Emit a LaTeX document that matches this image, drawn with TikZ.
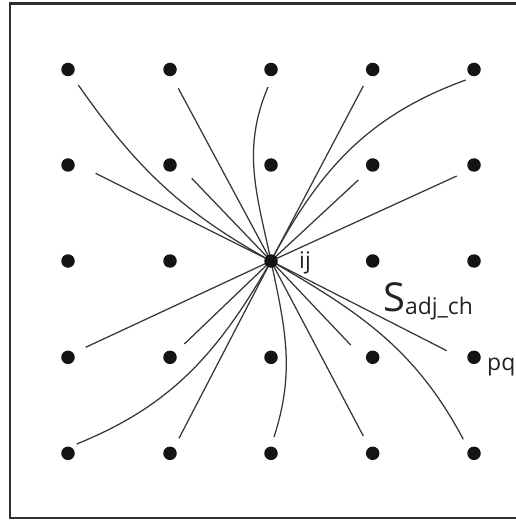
\documentclass[tikz,border=0pt]{standalone}
\usepackage{fontspec}
\setmainfont{Open Sans}
\pgfdeclarelayer{spokes}
\pgfsetlayers{spokes,main}
\definecolor{dotcol}{HTML}{141414}
\definecolor{linecol}{HTML}{363636}
\definecolor{labelcol}{HTML}{222222}
\definecolor{framecol}{HTML}{2E2E2E}
\begin{document}
\begin{tikzpicture}[x=1bp,y=1bp,
  dot/.style={circle,fill=dotcol,inner sep=0pt,minimum size=13.5bp},
  spoke/.style={draw=linecol,line width=1.25bp},
  lbl/.style={text=labelcol,inner sep=0pt,font=\fontsize{23}{27}\selectfont},
  frame/.style={draw=framecol,line width=2.6bp}]
\useasboundingbox (0,0) rectangle (516,-520);
\clip (0,0) rectangle (516,-520);
% outer frame: open on the right, where it runs off the page
\draw[frame] (520,-3.5) -- (10,-3.5) -- (10,-518) -- (520,-518);

% 5 x 5 lattice of sites
\foreach \c/\x in {0/68,1/170,2/271,3/372.7,4/474}{
  \foreach \r/\y in {0/69.5,1/165,2/261,3/357.3,4/453.3}{
    \node[dot] (d\c\r) at (\x,-\y) {};
  }
}

% free ends of the spokes
\coordinate (e1)  at (78.3,-85);
\coordinate (e2)  at (178.3,-88.3);
\coordinate (e3)  at (268,-87);
\coordinate (e4)  at (363.3,-86);
\coordinate (e5)  at (465.7,-80);
\coordinate (e6)  at (95.7,-173.3);
\coordinate (e7)  at (191.7,-178.3);
\coordinate (e8)  at (358.3,-180);
\coordinate (e9)  at (456.7,-176);
\coordinate (e10) at (85.7,-347.3);
\coordinate (e11) at (184.3,-344);
\coordinate (e12) at (350.7,-345);
\coordinate (e13) at (446.7,-350.7);
\coordinate (e14) at (76.7,-444);
\coordinate (e15) at (179,-438.3);
\coordinate (e16) at (274,-437);
\coordinate (e17) at (363.3,-436);
\coordinate (e18) at (463.3,-439.3);

% spokes from the central site
\begin{pgfonlayer}{spokes}
  \draw[spoke] (d22.center) to[out=151,in=-55] (e1);
  \draw[spoke] (d22.center) -- (e2);
  \draw[spoke] (d22.center) to[out=102,in=247] (e3);
  \draw[spoke] (d22.center) -- (e4);
  \draw[spoke] (d22.center) to[out=62,in=200] (e5);
  \draw[spoke] (d22.center) -- (e6);
  \draw[spoke] (d22.center) -- (e7);
  \draw[spoke] (d22.center) -- (e8);
  \draw[spoke] (d22.center) -- (e9);
  \draw[spoke] (d22.center) -- (e10);
  \draw[spoke] (d22.center) -- (e11);
  \draw[spoke] (d22.center) -- (e12);
  \draw[spoke] (d22.center) -- (e13);
  \draw[spoke] (d22.center) to[out=240,in=22] (e14);
  \draw[spoke] (d22.center) -- (e15);
  \draw[spoke] (d22.center) to[out=-78,in=72] (e16);
  \draw[spoke] (d22.center) -- (e17);
  \draw[spoke] (d22.center) to[out=-30,in=118] (e18);
\end{pgfonlayer}

% labels
\node[lbl,anchor=base west] (lij) at (299,-268.3) {ij};
\node[lbl,anchor=base west] (lpq) at (487,-370) {pq};
\node[lbl,anchor=base west] (lsadj) at (383,-311.7)
  {{\fontsize{40}{44}\selectfont S}\raisebox{-3bp}{adj\_ch}};
\end{tikzpicture}
\end{document}
